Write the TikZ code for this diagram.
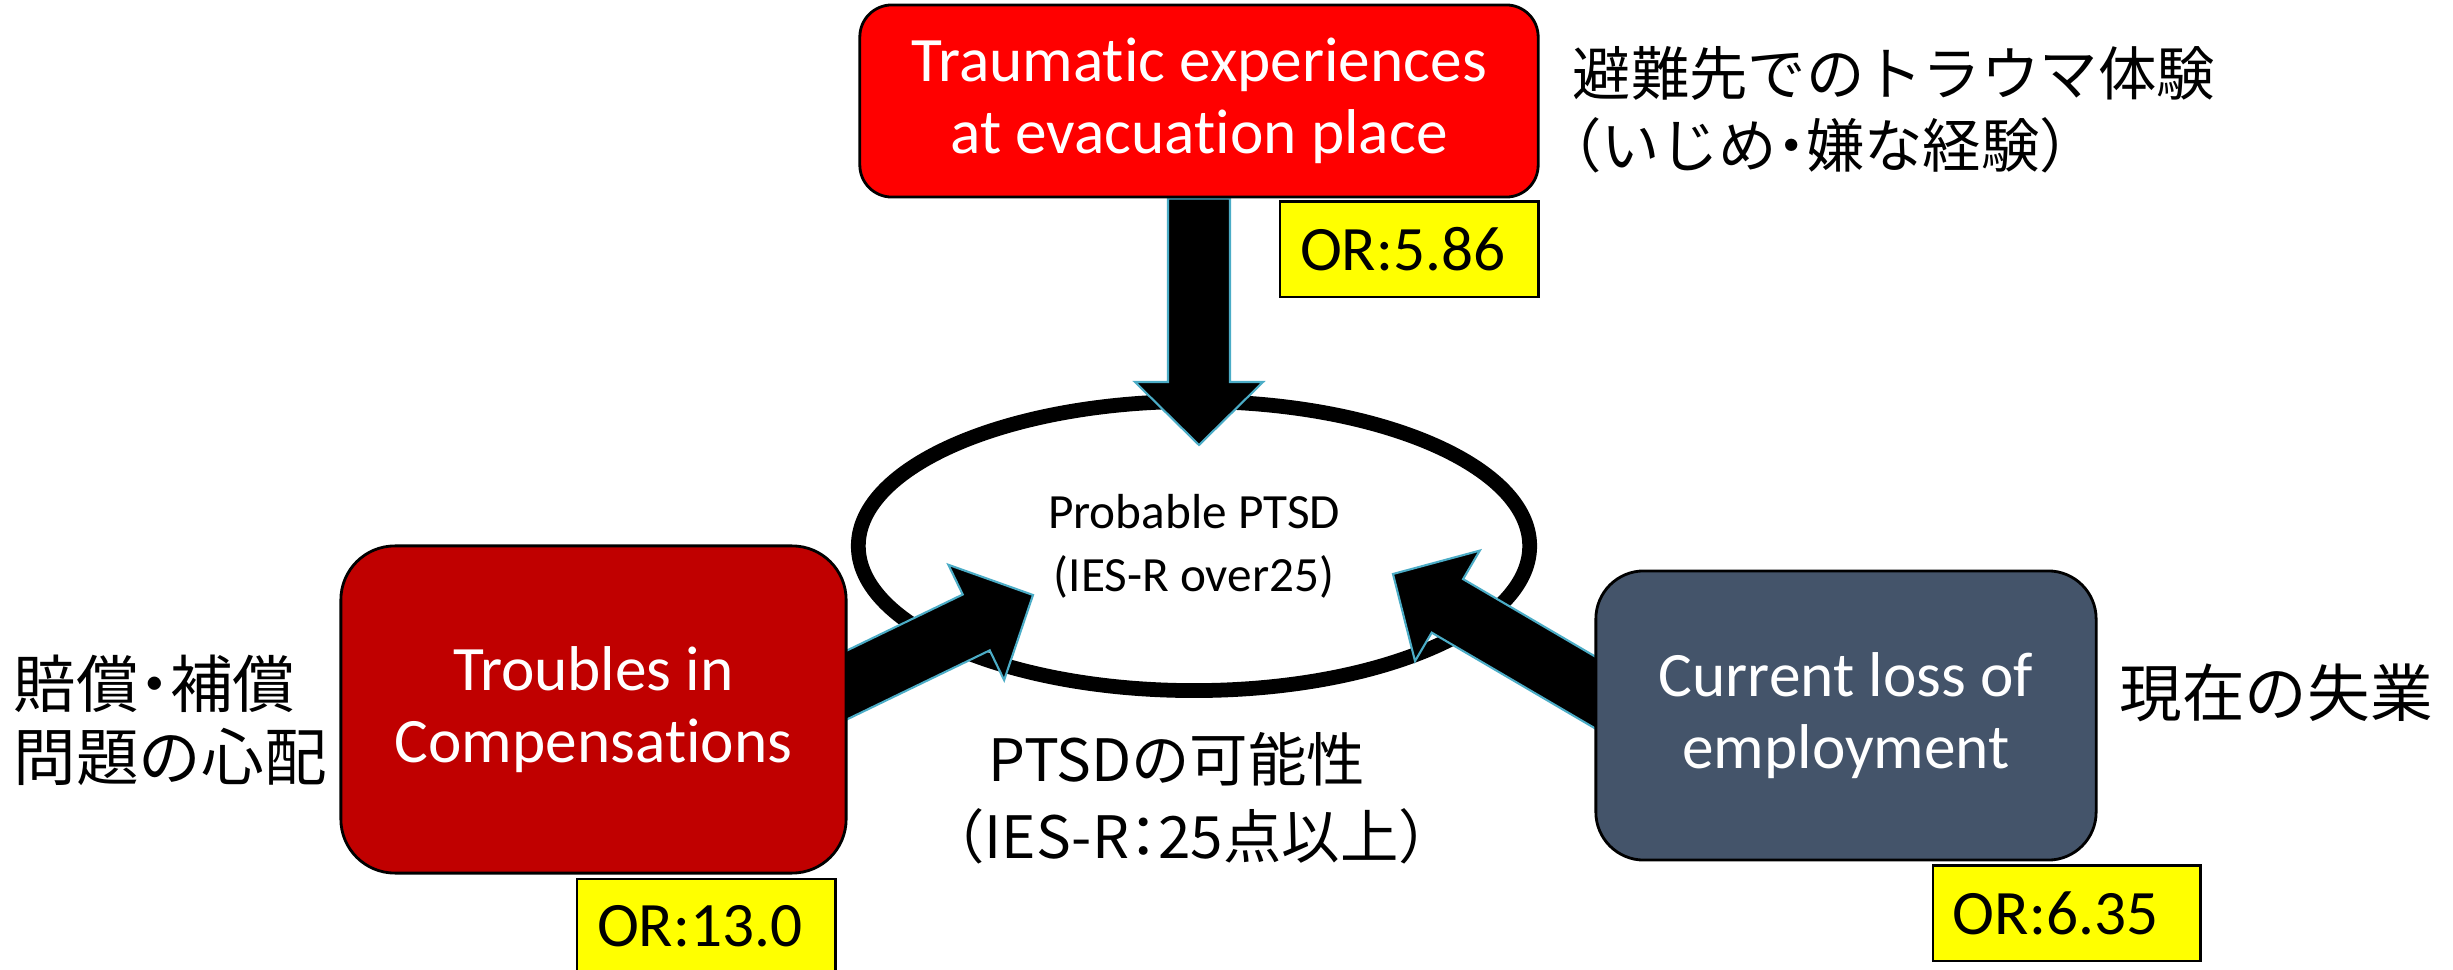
\documentclass[tikz,border=0pt]{standalone}
\usepackage{fontspec}
\setmainfont{Carlito}[Ligatures=NoCommon]
\newfontfamily\jpfont{Noto Sans CJK JP}
\newfontfamily\jphalf{Noto Sans CJK JP}[RawFeature=+halt]
\usepackage{xcolor}
\usepackage{tikz}
\usetikzlibrary{positioning, shapes.geometric, calc}

\definecolor{traumared}{RGB}{255,0,0}
\definecolor{compred}{RGB}{192,0,0}
\definecolor{jobslate}{RGB}{68,84,106}
\definecolor{oryellow}{RGB}{255,255,0}
\definecolor{arrowedge}{RGB}{75,172,198}

\pgfdeclarelayer{ellipselayer}
\pgfdeclarelayer{arrowlayer}
\pgfsetlayers{ellipselayer,arrowlayer,main}

\newcommand{\fatarrow}[2]{%
  \coordinate (headbase) at ($(#2)!0.63cm!(#1)$);
  \filldraw[fat] ($(#1)!0.31cm!90:(#2)$) -- ($(headbase)!0.31cm!90:(#2)$)
    -- ($(headbase)!0.64cm!90:(#2)$) -- (#2)
    -- ($(headbase)!0.64cm!-90:(#2)$) -- ($(headbase)!0.31cm!-90:(#2)$)
    -- ($(#1)!0.31cm!-90:(#2)$) -- cycle;
}

\begin{document}
\begin{tikzpicture}[x=0.01cm, y=-0.01cm,
  factor/.style={draw=black, line width=0.8pt, text=white, align=center, inner sep=0pt,
    font=\fontsize{18}{20.5}\selectfont},
  orbox/.style={draw=black, line width=0.8pt, fill=oryellow, inner xsep=0.2cm, inner ysep=0pt,
    text width=2.18cm, align=left, minimum height=0.95cm, font=\fontsize{18}{20}\selectfont},
  jpsmall/.style={inner sep=0pt, font=\jpfont\fontsize{16.6}{20.5}\selectfont},
  jplarge/.style={inner sep=0pt, font=\jpfont\fontsize{17.8}{20.8}\selectfont},
  fat/.style={fill=black, draw=arrowedge, line width=0.6pt, line join=miter}]
  \useasboundingbox (0,0) rectangle (2453,970);

  \begin{pgfonlayer}{ellipselayer}
    \node (ptsd) [ellipse, draw, line width=4.2pt, fill=white, align=center,
      minimum width=6.71cm, minimum height=2.89cm, font=\fontsize{14}{18}\selectfont]
      at (1194,546) {Probable PTSD\\(IES-R over25)};
  \end{pgfonlayer}

  \node (trauma) [factor, fill=traumared, minimum width=6.78cm, minimum height=1.92cm,
    rounded corners=0.32cm] at (1199,101) {Traumatic experiences\\at evacuation place};
  \node (comp) [factor, fill=compred, minimum width=5.05cm, minimum height=3.27cm,
    rounded corners=0.54cm] at (593.5,709.5) {Troubles in\\Compensations};
  \node (job) [factor, fill=jobslate, minimum width=5.00cm, minimum height=2.89cm,
    rounded corners=0.48cm] at (1846,715.5) {Current loss of\\employment};

  \node (ortrauma) [orbox, anchor=north east] at ($(trauma.south east)+(0,2)$) {OR:5.86};
  \node (orcomp) [orbox, anchor=north east] at ($(comp.south east)+(-11,3)$) {OR:13.0};
  \node (orjob) [orbox, anchor=north west, text width=2.27cm] at ($(job.south east)+(-166,3)$) {OR:6.35};

  \node (jptrauma) [jpsmall, anchor=west, align=left] at (1572,110)
    {避難先でのトラウマ体験\\{\jphalf （}いじめ{\jphalf ・}嫌な経験{\jphalf ）}};
  \node (jpcomp) [jplarge, anchor=west, align=left] at (13,720) {賠償{\jphalf ・}補償\\問題の心配};
  \node (jpjob) [jplarge, anchor=west] at (2119,693) {現在の失業};
  \node (jpptsd) [jpsmall, align=center, font=\jpfont\fontsize{16.6}{22}\selectfont]
    at (1177,798) {PTSDの可能性\\（IES-R{\jphalf ：}25点以上{\jphalf ）}};

  \coordinate (tiptrauma) at ($(ptsd.center)+(5,-101)$);
  \coordinate (tipcomp) at ($(ptsd.center)+(-161,49)$);
  \coordinate (tipjob) at ($(ptsd.center)+(199,28)$);
  \coordinate (startcomp) at ($(comp.east)+(-40,-5.5)$);
  \coordinate (startjob) at ($(job.west)+(40,0)$);

  \begin{pgfonlayer}{arrowlayer}
    \fatarrow{trauma.south}{tiptrauma}
    \fatarrow{startcomp}{tipcomp}
    \fatarrow{startjob}{tipjob}
  \end{pgfonlayer}
\end{tikzpicture}
\end{document}
